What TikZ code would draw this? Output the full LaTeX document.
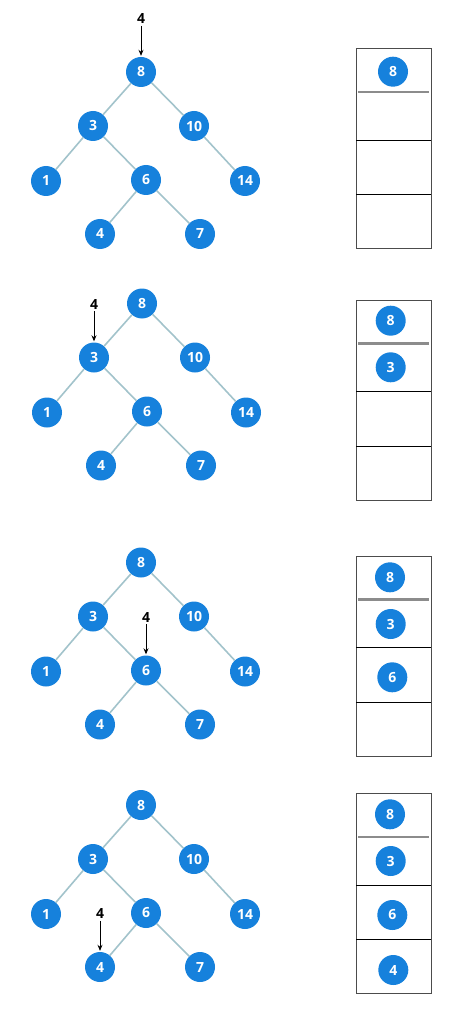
\documentclass[tikz,border=0pt]{standalone}
\usepackage{fontspec}
\setmainfont{Open Sans}
\usetikzlibrary{arrows.meta,positioning}
\definecolor{keyblue}{HTML}{1681DC}
\definecolor{edgegrey}{HTML}{A2C3CB}
\tikzset{
  keynode/.style={circle, fill=keyblue, text=white, minimum size=30pt, inner sep=0pt,
    font=\fontsize{14}{14}\selectfont\bfseries},
  treeedge/.style={draw=edgegrey, line width=1.6pt},
  searchkey/.style={inner sep=2pt, font=\fontsize{14}{14}\selectfont\bfseries},
  probe/.style={-{Stealth[length=6pt,width=5pt]}, line width=0.8pt, shorten >=1pt},
  stackbox/.style={draw=black!70, line width=1pt},
  topline/.style={draw=black!45, line width=2.2pt},
  slotline/.style={draw=black, line width=0.9pt}
}
% one copy of the search tree, root at (#2,#3), names #1-<key>
\def\searchtree#1(#2,#3){
  \begin{scope}[shift={(#2,#3)}]
    \node[keynode] (#1-8) at (0,0) {8};
    \node[keynode] (#1-3) at (-48,54) {3};
    \node[keynode] (#1-10) at (53,54) {10};
    \node[keynode] (#1-1) at (-95,109) {1};
    \node[keynode] (#1-6) at (5,108) {6};
    \node[keynode] (#1-14) at (104,109) {14};
    \node[keynode] (#1-4) at (-41,162) {4};
    \node[keynode] (#1-7) at (59,162) {7};
    \draw[treeedge] (#1-8) -- (#1-3);
    \draw[treeedge] (#1-8) -- (#1-10);
    \draw[treeedge] (#1-3) -- (#1-1);
    \draw[treeedge] (#1-3) -- (#1-6);
    \draw[treeedge] (#1-10) -- (#1-14);
    \draw[treeedge] (#1-6) -- (#1-4);
    \draw[treeedge] (#1-6) -- (#1-7);
  \end{scope}
}
% the stack of visited keys, top edge at y=#1
\def\stackframe(#1){
  \draw[stackbox] (356,#1) rectangle (431,#1+200);
  \draw[topline] (358,#1+43.4) -- (429,#1+43.4);
  \draw[slotline] (356,#1+91.7) -- (431,#1+91.7);
  \draw[slotline] (356,#1+146) -- (431,#1+146);
}

\begin{document}
\begin{tikzpicture}[x=1pt,y=-1pt]
  \useasboundingbox (0,0) rectangle (470,1024);

  %%%%% step 1 %%%%%
  \searchtree a(141,72)
  \node[searchkey, above=31pt of a-8] (ka) {4};
  \draw[probe] (ka) -- (a-8);
  \stackframe(48.3)
  \node[keynode] (sa-8) at (393,71.7) {8};

  %%%%% step 2 %%%%%
  \searchtree b(142,303.5)
  \node[searchkey, above=31pt of b-3] (kb) {4};
  \draw[probe] (kb) -- (b-3);
  \stackframe(300)
  \node[keynode] (sb-8) at (390.7,320.7) {8};
  \node[keynode] (sb-3) at (390.7,367.3) {3};

  %%%%% step 3 %%%%%
  \searchtree c(141,562.5)
  \node[searchkey, above=31pt of c-6] (kc) {4};
  \draw[probe] (kc) -- (c-6);
  \stackframe(556)
  \node[keynode] (sc-8) at (390,577.3) {8};
  \node[keynode] (sc-3) at (390.7,624) {3};
  \node[keynode] (sc-6) at (392.3,677.3) {6};

  %%%%% step 4 %%%%%
  \searchtree d(141,805)
  \node[searchkey, above=31pt of d-4] (kd) {4};
  \draw[probe] (kd) -- (d-4);
  \stackframe(793.3)
  \node[keynode] (sd-8) at (390,814.3) {8};
  \node[keynode] (sd-3) at (390.7,861) {3};
  \node[keynode] (sd-6) at (392.3,915) {6};
  \node[keynode] (sd-4) at (393.3,970) {4};
\end{tikzpicture}
\end{document}
